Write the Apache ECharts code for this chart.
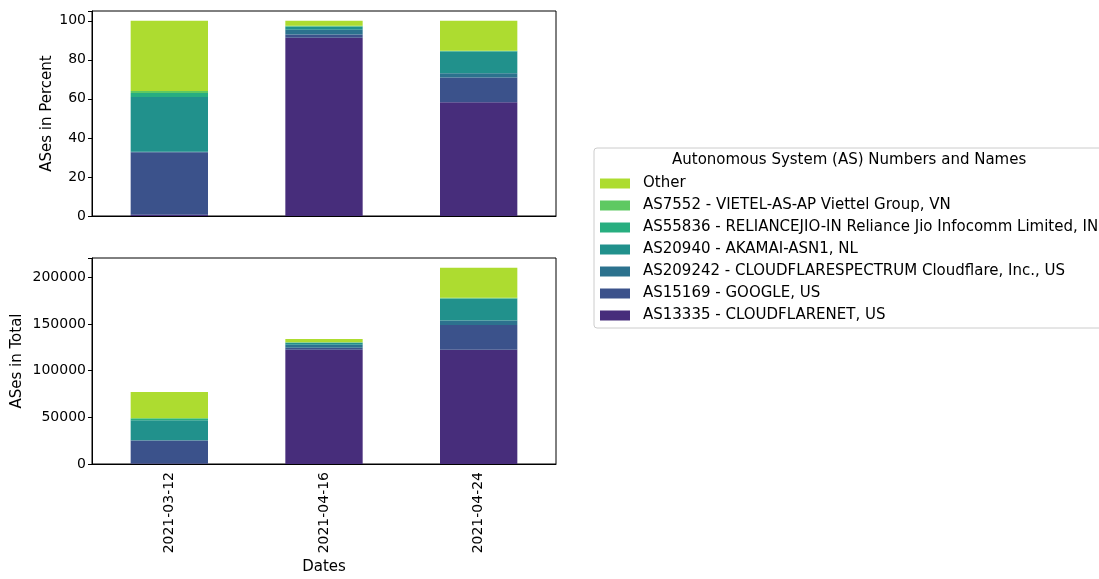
<!DOCTYPE html>
<html>
<head>
<meta charset="utf-8">
<script src="https://cdn.jsdelivr.net/npm/echarts@6/dist/echarts.min.js"></script>
<style>html,body{margin:0;padding:0;background:#fff}#c{width:1099px;height:579px}</style>
</head>
<body>
<div id="c"></div>
<script>
var dates = ['2021-03-12', '2021-04-16', '2021-04-24'];
var seriesNames = [
  'AS13335 - CLOUDFLARENET, US',
  'AS15169 - GOOGLE, US',
  'AS209242 - CLOUDFLARESPECTRUM Cloudflare, Inc., US',
  'AS20940 - AKAMAI-ASN1, NL',
  'AS55836 - RELIANCEJIO-IN Reliance Jio Infocomm Limited, IN',
  'AS7552 - VIETEL-AS-AP Viettel Group, VN',
  'Other'
];
var colors = ['#472d7b', '#3b528b', '#2c728e', '#21918c', '#28ae80', '#5ec962', '#addc30'];

// percent values (top panel)
var pctAS13335 = [0.7, 91.3, 58.2];
var pctAS15169 = [32.0, 1.6, 12.7];
var pctAS209242 = [0.2, 2.5, 2.2];
var pctAS20940 = [28.0, 1.5, 11.1];
var pctAS55836 = [2.1, 0.3, 0.3];
var pctAS7552 = [1.0, 0.2, 0.2];
var pctOther = [36.0, 2.6, 15.3];

// absolute counts (bottom panel)
var totAS13335 = [540, 122200, 122200];
var totAS15169 = [24640, 2140, 26670];
var totAS209242 = [150, 3350, 4620];
var totAS20940 = [21560, 2010, 23310];
var totAS55836 = [1620, 400, 630];
var totAS7552 = [770, 270, 420];
var totOther = [27720, 3480, 32130];

var pctTicks = [0, 20, 40, 60, 80, 100];
var totTicks = [0, 50000, 100000, 150000, 200000];

var pctData = [pctAS13335, pctAS15169, pctAS209242, pctAS20940, pctAS55836, pctAS7552, pctOther];
var totData = [totAS13335, totAS15169, totAS209242, totAS20940, totAS55836, totAS7552, totOther];

var FONT = 'DejaVu Sans';
var chart = echarts.init(document.getElementById('c'));
var series = [];
for (var i = 0; i < seriesNames.length; i++) {
  series.push({type: 'bar', name: seriesNames[i], stack: 'p', xAxisIndex: 0, yAxisIndex: 0,
    data: pctData[i], barWidth: '50%', itemStyle: {color: colors[i]}});
}
for (var j = 0; j < seriesNames.length; j++) {
  series.push({type: 'bar', name: seriesNames[j], stack: 't', xAxisIndex: 1, yAxisIndex: 1,
    data: totData[j], barWidth: '50%', itemStyle: {color: colors[j]}});
}
function yLab(ticks) {
  return {color: '#000', fontFamily: FONT, fontSize: 14, margin: 6,
    formatter: function (v) { return ticks.indexOf(v) >= 0 ? String(v) : ''; }};
}
chart.setOption({
  animation: false,
  textStyle: {fontFamily: FONT},
  grid: [
    {left: 92, width: 464, top: 11, height: 205, show: true, borderColor: '#000', borderWidth: 1, containLabel: false},
    {left: 92, width: 464, top: 258, height: 206, show: true, borderColor: '#000', borderWidth: 1, containLabel: false}
  ],
  xAxis: [
    {type: 'category', gridIndex: 0, data: dates, axisLabel: {show: false},
      axisTick: {alignWithLabel: true, length: 4, lineStyle: {color: '#000'}},
      axisLine: {lineStyle: {color: '#000'}}},
    {type: 'category', gridIndex: 1, data: dates, name: 'Dates', nameLocation: 'middle', nameGap: 96,
      nameTextStyle: {color: '#000', fontSize: 15, fontFamily: FONT},
      axisLabel: {rotate: 90, color: '#000', fontSize: 14, fontFamily: FONT, margin: 8},
      axisTick: {alignWithLabel: true, length: 4, lineStyle: {color: '#000'}},
      axisLine: {lineStyle: {color: '#000'}}}
  ],
  yAxis: [
    {type: 'value', gridIndex: 0, min: 0, max: 105, interval: 20, name: 'ASes in Percent',
      nameLocation: 'middle', nameGap: 37, nameTextStyle: {color: '#000', fontSize: 15, fontFamily: FONT},
      axisLabel: yLab(pctTicks), splitLine: {show: false},
      axisTick: {show: true, length: 4, lineStyle: {color: '#000'}},
      axisLine: {show: true, lineStyle: {color: '#000'}}},
    {type: 'value', gridIndex: 1, min: 0, max: 220500, interval: 50000, name: 'ASes in Total',
      nameLocation: 'middle', nameGap: 67, nameTextStyle: {color: '#000', fontSize: 15, fontFamily: FONT},
      axisLabel: yLab(totTicks), splitLine: {show: false},
      axisTick: {show: true, length: 4, lineStyle: {color: '#000'}},
      axisLine: {show: true, lineStyle: {color: '#000'}}}
  ],
  legend: {
    orient: 'vertical', left: 594, top: 148,
    data: seriesNames.slice().reverse(),
    itemWidth: 30, itemHeight: 10, itemGap: 7,
    padding: [28, 8, 5, 6],
    borderColor: '#ccc', borderWidth: 1, borderRadius: 3,
    icon: 'rect',
    textStyle: {color: '#000', fontSize: 15, fontFamily: FONT, padding: [0, 0, 0, 8]}
  },
  graphic: [
    {type: 'text', left: 672, top: 153, style: {text: 'Autonomous System (AS) Numbers and Names', fontSize: 15, fontFamily: FONT, fill: '#000'}}
  ],
  series: series
});
</script>
</body>
</html>
